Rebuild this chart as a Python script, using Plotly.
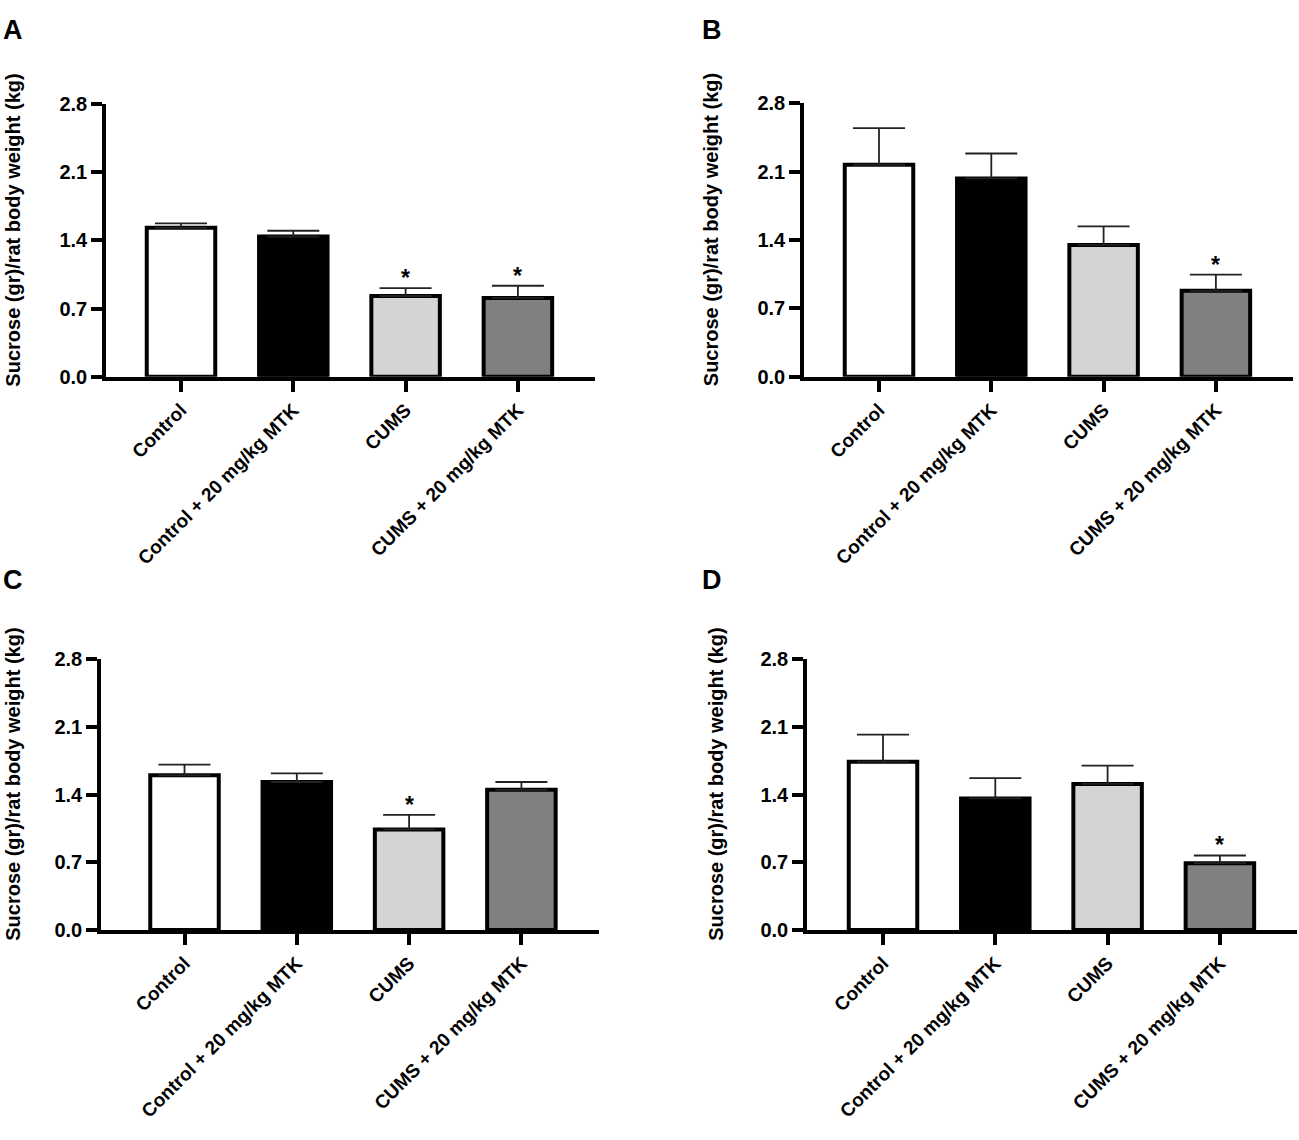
import plotly.graph_objects as go

W, H = 1299, 1140

categories = ["Control", "Control + 20 mg/kg MTK", "CUMS", "CUMS + 20 mg/kg MTK"]
bar_colors = ["#ffffff", "#000000", "#d4d4d4", "#808080"]

a_mean = [1.53, 1.44, 0.83, 0.81]
a_sem = [0.045, 0.06, 0.08, 0.125]
a_star = [False, False, True, True]

b_mean = [2.17, 2.03, 1.35, 0.88]
b_sem = [0.375, 0.255, 0.19, 0.165]
b_star = [False, False, False, True]

c_mean = [1.60, 1.53, 1.04, 1.45]
c_sem = [0.11, 0.09, 0.15, 0.08]
c_star = [False, False, True, False]

d_mean = [1.74, 1.36, 1.51, 0.69]
d_sem = [0.28, 0.21, 0.19, 0.08]
d_star = [False, False, False, True]

y_ticks = [0.0, 0.7, 1.4, 2.1, 2.8]
y_title = "Sucrose (gr)/rat body weight (kg)"
panel_letters = ["A", "B", "C", "D"]

FONT = "Liberation Sans, Arial, sans-serif"

# pixel layout per panel: (yaxis_x, axis_end_x, first_tick_x, y_zero_px, y_top_px, title_x, letter_x, letter_y)
layout_px = [
    (106, 595, 181, 373, 95, 13, 1, 2),
    (804, 1293, 879, 373, 94, 711, 700, 2),
    (101, 599, 184.5, 937, 661, 13, 1, 563),
    (807, 1297, 883, 937, 661, 716, 700, 563),
]
spacing = 112.3

panels = [
    (a_mean, a_sem, a_star),
    (b_mean, b_sem, b_star),
    (c_mean, c_sem, c_star),
    (d_mean, d_sem, d_star),
]

fig = go.Figure()
annotations = []

for i, ((mean, sem, star), px) in enumerate(zip(panels, layout_px)):
    ax_x, ax_end, t0, y0, y1, tx, lx, ly = px
    k = "" if i == 0 else str(i + 1)
    xa, ya = "x" + k, "y" + k
    fig.add_trace(go.Bar(
        x=categories, y=mean,
        xaxis=xa, yaxis=ya,
        width=0.61,
        marker=dict(color=bar_colors, line=dict(color="black", width=4)),
        error_y=dict(type="data", array=sem, arrayminus=[0] * len(sem),
                     symmetric=False, color="#222222", thickness=1.8, width=26),
        showlegend=False, hoverinfo="skip",
    ))
    r0 = -(t0 - ax_x) / spacing
    r1 = 3 + (ax_end - (t0 + 3 * spacing)) / spacing
    xdom = [ax_x / W, ax_end / W]
    ydom = [1 - y0 / H, 1 - y1 / H]
    fig.layout["xaxis" + k] = dict(
        domain=xdom, anchor=ya, type="category", range=[r0, r1],
        showline=True, linecolor="black", linewidth=3.5,
        ticks="outside", ticklen=11, tickwidth=3.5, tickcolor="black",
        tickangle=-45, showgrid=False, zeroline=False,
        tickfont=dict(family=FONT, size=19, color="black", weight="bold"),
    )
    fig.layout["yaxis" + k] = dict(
        domain=ydom, anchor=xa, range=[0, 2.8],
        tickvals=y_ticks, tickformat=".1f",
        showline=True, linecolor="black", linewidth=3.5,
        ticks="outside", ticklen=11, tickwidth=3.5, tickcolor="black",
        showgrid=False, zeroline=False,
        tickfont=dict(family=FONT, size=20, color="black", weight="bold"),
    )
    # asterisks
    for c, m, s, st in zip(categories, mean, sem, star):
        if st:
            annotations.append(dict(
                x=c, y=m + s, xref=xa, yref=ya, text="*", showarrow=False,
                yanchor="bottom", yshift=-5,
                font=dict(family=FONT, size=23, color="black", weight="bold"),
            ))
    # y title
    annotations.append(dict(
        x=tx / W, y=1 - ((y0 + y1) / 2 - 10) / H, xref="paper", yref="paper",
        text=y_title, textangle=-90, showarrow=False,
        xanchor="center", yanchor="middle",
        font=dict(family=FONT, size=20, color="black", weight="bold"),
    ))
    # panel letter
    annotations.append(dict(
        x=lx / W, y=1 - ly / H, xref="paper", yref="paper",
        text=panel_letters[i], showarrow=False,
        xanchor="left", yanchor="top",
        font=dict(family=FONT, size=27, color="black", weight="bold"),
    ))

fig.update_layout(
    width=W, height=H,
    margin=dict(l=0, r=0, t=0, b=0),
    paper_bgcolor="white", plot_bgcolor="white",
    annotations=annotations,
    bargap=0.4,
)

fig.write_html("out.html", config={"displayModeBar": False},
               post_script="document.body.style.margin='0';")
